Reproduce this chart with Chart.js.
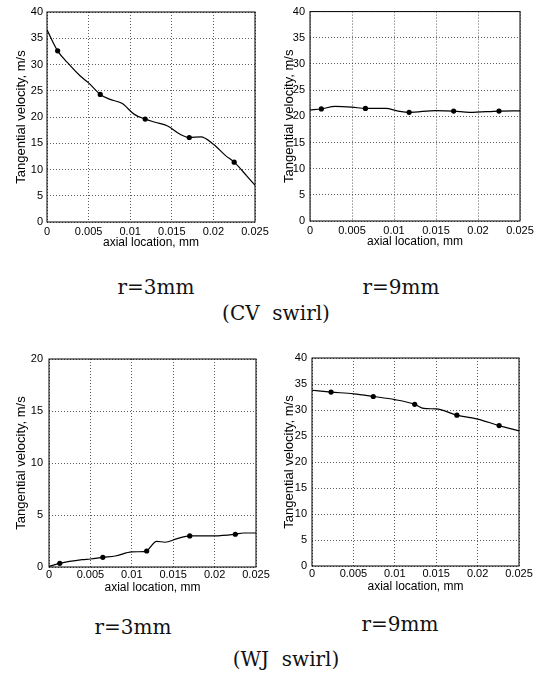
<!DOCTYPE html>
<html>
<head>
<meta charset="utf-8">
<script src="https://cdn.jsdelivr.net/npm/chart.js@4.4.1/dist/chart.umd.min.js"></script>
<style>
body { margin: 0; background: #fff; }
#page { position: relative; width: 544px; height: 681px; overflow: hidden; background: #fff; }
canvas { position: absolute; }
.cap { position: absolute; transform: translate(-50%, -50%); font-family: "DejaVu Serif", serif; font-size: 20px; color: #111; white-space: pre; }
</style>
</head>
<body>
<div id="page">
  <canvas id="cvR3" width="272" height="250" style="left:0;top:0"></canvas>
  <canvas id="cvR9" width="272" height="249" style="left:272px;top:0"></canvas>
  <canvas id="wjR3" width="272" height="255" style="left:0;top:340px"></canvas>
  <canvas id="wjR9" width="272" height="254" style="left:272px;top:340px"></canvas>

  <div class="cap" style="left:156px;top:287px">r=3mm</div>
  <div class="cap" style="left:401px;top:287px">r=9mm</div>
  <div class="cap" style="left:276px;top:313px">(CV  swirl)</div>
  <div class="cap" style="left:133px;top:627px">r=3mm</div>
  <div class="cap" style="left:400px;top:624px">r=9mm</div>
  <div class="cap" style="left:286px;top:659px">(WJ  swirl)</div>
</div>
<script>
// x ticks shared by all four panels
const xTicks = [0, 0.005, 0.01, 0.015, 0.02, 0.025];
const xTickLabels = ['0', '0.005', '0.01', '0.015', '0.02', '0.025'];
const yTicks40 = [0, 5, 10, 15, 20, 25, 30, 35, 40];
const yTicks20 = [0, 5, 10, 15, 20];

// CV swirl, r=3mm
const cv3CurveX = [0, 0.00128, 0.0025, 0.004, 0.005, 0.0064, 0.0075, 0.009, 0.0105, 0.0118, 0.013, 0.0145, 0.016, 0.0171, 0.0185, 0.02, 0.0215, 0.0225, 0.024, 0.025];
const cv3CurveY = [36.6, 32.6, 30.3, 27.8, 26.5, 24.3, 23.4, 22.6, 20.5, 19.6, 19.0, 18.3, 16.7, 16.1, 16.2, 14.8, 12.6, 11.4, 8.8, 7.0];
const cv3MarkX = [0.00128, 0.0064, 0.0118, 0.0171, 0.0225];
const cv3MarkY = [32.6, 24.3, 19.6, 16.1, 11.4];

// CV swirl, r=9mm
const cv9CurveX = [0, 0.00135, 0.003, 0.005, 0.0066, 0.009, 0.0105, 0.0118, 0.015, 0.0171, 0.019, 0.0225, 0.025];
const cv9CurveY = [21.2, 21.4, 21.9, 21.75, 21.5, 21.5, 21.0, 20.75, 21.1, 21.0, 20.75, 21.0, 21.05];
const cv9MarkX = [0.00135, 0.0066, 0.0118, 0.0171, 0.0225];
const cv9MarkY = [21.4, 21.5, 20.75, 21.0, 21.0];

// WJ swirl, r=3mm
const wj3CurveX = [0, 0.0013, 0.004, 0.005, 0.0065, 0.008, 0.01, 0.0115, 0.0118, 0.013, 0.014, 0.0155, 0.017, 0.02, 0.0225, 0.0235, 0.025];
const wj3CurveY = [0.05, 0.35, 0.7, 0.77, 0.93, 1.06, 1.45, 1.48, 1.54, 2.47, 2.38, 2.73, 2.99, 2.99, 3.15, 3.27, 3.27];
const wj3MarkX = [0.0013, 0.0065, 0.0118, 0.017, 0.0225];
const wj3MarkY = [0.35, 0.93, 1.54, 2.99, 3.15];

// WJ swirl, r=9mm
const wj9CurveX = [0, 0.0023, 0.005, 0.0074, 0.01, 0.0124, 0.0135, 0.015, 0.0175, 0.02, 0.0226, 0.025];
const wj9CurveY = [33.8, 33.45, 33.1, 32.6, 32.0, 31.1, 30.3, 30.2, 29.0, 28.25, 27.0, 26.0];
const wj9MarkX = [0.0023, 0.0074, 0.0124, 0.0175, 0.0226];
const wj9MarkY = [33.45, 32.6, 31.1, 29.0, 27.0];

const toPoints = (xs, ys) => xs.map((x, i) => ({ x: x, y: ys[i] }));

// draws the closed box round the plot area
const framePlugin = {
    id: 'frame',
    afterDraw(chart) {
        const { ctx, chartArea: a } = chart;
        ctx.save();
        ctx.strokeStyle = '#000';
        ctx.lineWidth = 1;
        ctx.strokeRect(a.left, a.top, a.right - a.left, a.bottom - a.top);
        ctx.restore();
    }
};

function makePanel(id, curveX, curveY, markX, markY, yTicks, lay) {
    const ctx = document.getElementById(id).getContext('2d');
    const yMax = yTicks[yTicks.length - 1];
    return new Chart(ctx, {
        type: 'line',
        data: {
            datasets: [
                {
                    data: toPoints(curveX, curveY),
                    borderColor: '#000',
                    borderWidth: 1.2,
                    pointRadius: 0,
                    cubicInterpolationMode: 'monotone',
                    fill: false
                },
                {
                    data: toPoints(markX, markY),
                    showLine: false,
                    pointRadius: 2.6,
                    pointBackgroundColor: '#000',
                    pointBorderColor: '#000',
                    pointBorderWidth: 0
                }
            ]
        },
        options: {
            responsive: false,
            animation: false,
            layout: { padding: { top: lay.padTop, right: lay.padRight, left: 0, bottom: 0 } },
            plugins: { legend: { display: false }, tooltip: { enabled: false } },
            scales: {
                x: {
                    type: 'linear',
                    min: 0,
                    max: 0.025,
                    afterBuildTicks: s => { s.ticks = xTicks.map(v => ({ value: v })); },
                    afterFit: s => { s.height = 28; },
                    grid: { color: '#333', lineWidth: 0.8, drawTicks: false },
                    border: { display: false, dash: [1, 2] },
                    ticks: {
                        color: '#000',
                        padding: lay.xTickPad,
                        maxRotation: 0,
                        font: { family: 'Liberation Sans', size: 11 },
                        callback: (v, i) => xTickLabels[i]
                    },
                    title: {
                        display: true,
                        text: 'axial location, mm',
                        color: '#000',
                        padding: 0,
                        font: { family: 'Liberation Sans', size: 12 }
                    }
                },
                y: {
                    type: 'linear',
                    min: 0,
                    max: yMax,
                    afterBuildTicks: s => { s.ticks = yTicks.map(v => ({ value: v })); },
                    afterFit: s => { s.width = lay.yAxisW; },
                    grid: { color: '#333', lineWidth: 0.8, drawTicks: false },
                    border: { display: false, dash: [1, 2] },
                    ticks: {
                        color: '#000',
                        padding: lay.yTickPad,
                        font: { family: 'Liberation Sans', size: 11 }
                    },
                    title: {
                        display: true,
                        text: 'Tangential velocity, m/s',
                        color: '#000',
                        padding: { top: lay.yTitlePad, bottom: 0 },
                        font: { family: 'Liberation Sans', size: 13 }
                    }
                }
            }
        },
        plugins: [framePlugin]
    });
}

makePanel('cvR3', cv3CurveX, cv3CurveY, cv3MarkX, cv3MarkY, yTicks40,
    { padTop: 12, padRight: 17, yAxisW: 47, yTickPad: 4, yTitlePad: 14, xTickPad: 3 });
makePanel('cvR9', cv9CurveX, cv9CurveY, cv9MarkX, cv9MarkY, yTicks40,
    { padTop: 8, padRight: 24, yAxisW: 38, yTickPad: 5, yTitlePad: 10, xTickPad: 3 });
makePanel('wjR3', wj3CurveX, wj3CurveY, wj3MarkX, wj3MarkY, yTicks20,
    { padTop: 19, padRight: 16, yAxisW: 49, yTickPad: 6, yTitlePad: 14, xTickPad: 1 });
makePanel('wjR9', wj9CurveX, wj9CurveY, wj9MarkX, wj9MarkY, yTicks40,
    { padTop: 18, padRight: 25, yAxisW: 40, yTickPad: 5, yTitlePad: 10, xTickPad: 1 });
</script>
</body>
</html>
